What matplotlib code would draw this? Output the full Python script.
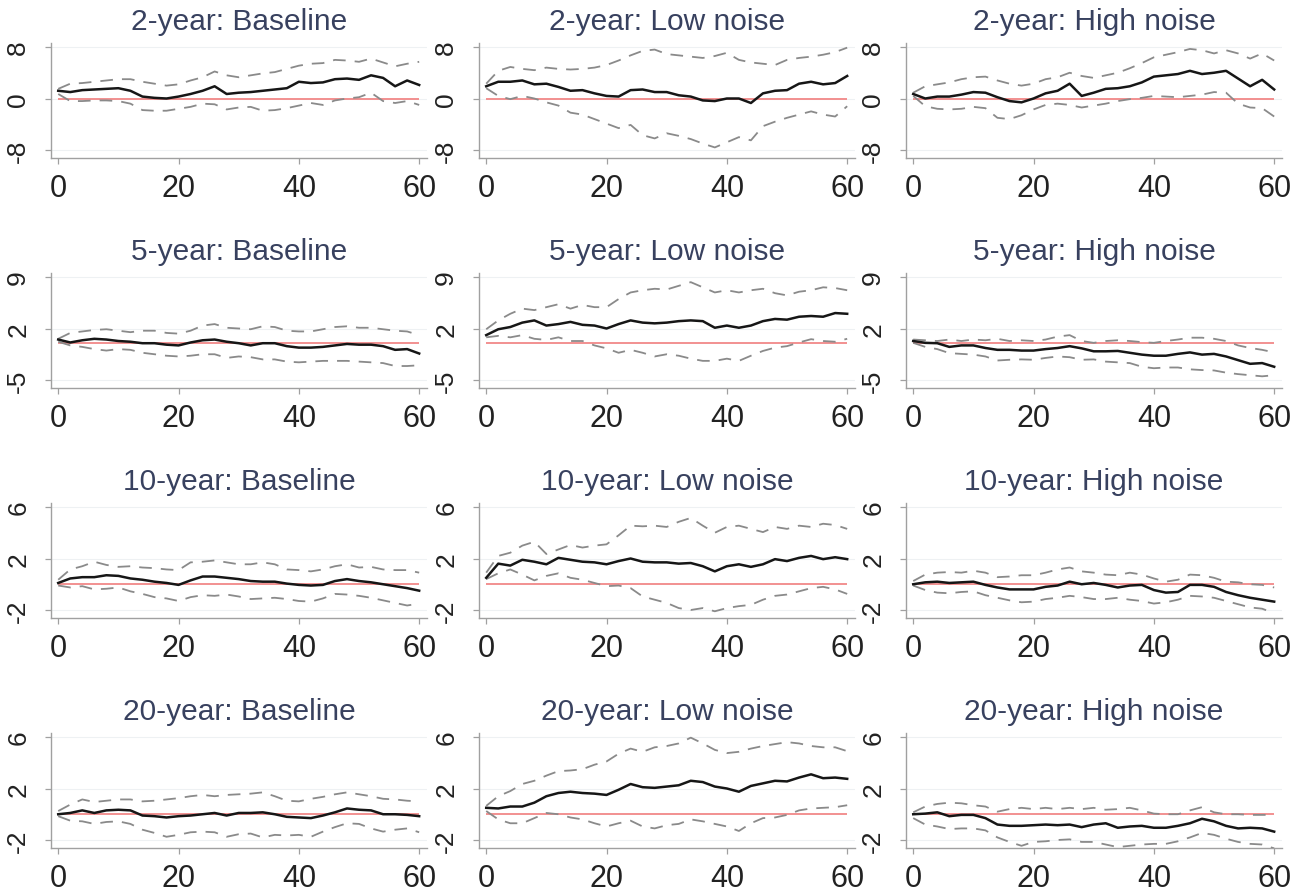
import matplotlib
matplotlib.use('Agg')
import matplotlib.pyplot as plt

plt.rcParams['font.family'] = ['Liberation Sans', 'DejaVu Sans']

# forecast horizon (months), sampled every second step
horizon = list(range(0, 61, 2))
maturities = ['2-year', '5-year', '10-year', '20-year']
scenarios = ['Baseline', 'Low noise', 'High noise']
y_ticks = [[-8, 0, 8], [-5, 2, 9], [-2, 2, 6], [-2, 2, 6]]
x_ticks = [0, 20, 40, 60]

# 2-year
mean_2y_base = [1.2, 1.0, 1.3, 1.4, 1.5, 1.6, 1.2, 0.3, 0.1, 0.0, 0.3, 0.7, 1.2, 1.9, 0.7, 0.9,
                1.0, 1.2, 1.4, 1.6, 2.6, 2.4, 2.5, 3.0, 3.1, 2.9, 3.6, 3.2, 1.9, 2.8, 2.1]
upper_2y_base = [1.5, 2.3, 2.4, 2.6, 2.8, 3.0, 3.0, 2.6, 2.3, 2.0, 2.2, 2.8, 3.3, 4.2, 3.6, 3.3,
                 3.6, 3.9, 4.1, 4.6, 5.1, 5.4, 5.5, 6.0, 5.9, 5.7, 6.2, 5.6, 5.0, 5.4, 5.7]
lower_2y_base = [0.7, -0.4, -0.4, -0.3, -0.3, -0.4, -0.8, -1.8, -1.9, -1.9, -1.6, -1.3, -0.8, -0.9, -1.7, -1.4,
                 -1.3, -1.9, -1.8, -1.5, -1.1, -0.7, -1.0, -0.3, 0.0, 0.2, 0.9, -0.4, -0.7, -0.4, -1.0]

mean_2y_low = [1.9, 2.6, 2.6, 2.8, 2.2, 2.3, 1.8, 1.2, 1.3, 0.8, 0.4, 0.3, 1.3, 1.4, 1.0, 1.0,
               0.5, 0.3, -0.3, -0.4, 0.0, 0.0, -0.7, 0.8, 1.2, 1.3, 2.3, 2.6, 2.2, 2.4, 3.5]
upper_2y_low = [2.3, 4.3, 4.9, 4.6, 4.4, 4.8, 4.6, 4.5, 4.6, 4.8, 5.2, 5.9, 6.7, 7.4, 7.6, 6.9,
                6.7, 6.5, 6.3, 6.6, 7.1, 6.0, 5.6, 5.4, 5.2, 6.0, 6.3, 6.5, 6.8, 7.2, 7.9]
lower_2y_low = [1.6, 0.4, -0.1, 0.4, 0.0, -0.6, -1.1, -2.2, -2.5, -3.2, -3.9, -4.6, -4.1, -5.7, -6.2, -5.4,
                -5.8, -6.3, -7.0, -7.6, -6.8, -6.0, -6.5, -4.3, -3.6, -3.0, -2.5, -2.0, -2.5, -2.8, -1.2]

mean_2y_high = [0.7, 0.0, 0.3, 0.3, 0.6, 1.0, 0.9, 0.2, -0.4, -0.6, 0.0, 0.8, 1.2, 2.3, 0.4, 0.9,
                1.5, 1.6, 1.9, 2.5, 3.4, 3.6, 3.8, 4.3, 3.8, 4.0, 4.3, 3.1, 1.9, 2.9, 1.4]
upper_2y_high = [0.9, 1.9, 2.2, 2.5, 3.0, 3.3, 3.4, 2.8, 2.3, 2.0, 2.3, 3.0, 3.3, 4.0, 3.5, 3.2,
                 3.6, 4.0, 4.7, 5.5, 6.4, 6.8, 7.2, 7.7, 7.5, 7.0, 7.5, 7.0, 6.2, 7.0, 5.9]
lower_2y_high = [0.4, -1.2, -1.6, -1.7, -1.6, -1.3, -1.5, -3.0, -3.2, -2.6, -1.7, -1.0, -0.8, -1.0, -1.4, -1.1,
                 -0.8, -0.4, -0.1, 0.1, 0.4, 0.3, 0.2, 0.4, 0.6, 1.0, 0.9, -0.8, -1.4, -1.5, -2.8]

# 5-year
mean_5y_base = [0.5, 0.1, 0.4, 0.6, 0.5, 0.3, 0.2, 0.0, 0.0, -0.2, -0.3, 0.1, 0.4, 0.5, 0.2, 0.0,
                -0.3, 0.0, 0.0, -0.4, -0.6, -0.6, -0.5, -0.3, -0.1, -0.2, -0.2, -0.4, -0.9, -0.8, -1.4]
upper_5y_base = [0.6, 1.4, 1.6, 1.8, 1.9, 1.7, 1.5, 1.7, 1.7, 1.4, 1.3, 1.7, 2.4, 2.6, 2.1, 2.0,
                 1.9, 2.3, 2.2, 1.7, 1.6, 1.6, 1.9, 2.2, 2.3, 2.1, 2.1, 1.9, 1.7, 1.6, 1.1]
lower_5y_base = [0.2, -0.3, -0.5, -0.8, -1.0, -0.8, -0.9, -1.3, -1.5, -1.7, -1.8, -1.7, -1.5, -1.5, -2.0, -1.8,
                 -1.9, -2.2, -2.2, -2.5, -2.6, -2.5, -2.4, -2.4, -2.4, -2.5, -2.6, -2.7, -3.1, -3.1, -3.0]

mean_5y_low = [1.1, 1.9, 2.2, 2.8, 3.1, 2.4, 2.6, 2.9, 2.5, 2.4, 2.0, 2.6, 3.1, 2.8, 2.7, 2.8,
               3.0, 3.1, 3.0, 2.1, 2.4, 2.1, 2.4, 3.0, 3.3, 3.2, 3.6, 3.7, 3.6, 4.1, 4.0]
upper_5y_low = [1.9, 3.1, 4.0, 4.7, 4.5, 4.9, 5.3, 4.7, 5.2, 4.9, 4.9, 6.0, 6.9, 7.2, 7.4, 7.3,
                7.8, 8.3, 7.6, 6.9, 7.2, 6.9, 7.2, 7.4, 6.8, 6.5, 7.0, 7.2, 7.6, 7.5, 7.2]
lower_5y_low = [0.8, 1.0, 0.8, 1.1, 0.6, 0.45, 0.8, 0.3, 0.3, -0.3, -0.7, -1.3, -0.9, -1.3, -1.8, -1.5,
                -1.7, -2.1, -2.4, -2.4, -2.1, -2.4, -1.7, -1.05, -0.6, -0.4, 0.1, 0.55, 0.3, 0.2, 0.6]

mean_5y_high = [0.3, 0.05, 0.0, -0.5, -0.3, -0.3, -0.65, -0.9, -0.9, -1.0, -1.0, -0.8, -0.65, -0.4, -0.7, -1.1,
                -1.1, -1.05, -1.3, -1.55, -1.7, -1.7, -1.45, -1.25, -1.55, -1.45, -1.8, -2.3, -2.8, -2.7, -3.2]
upper_5y_high = [0.5, 0.4, 0.3, 0.5, 0.3, 0.5, 0.4, 0.6, 0.3, 0.4, 0.3, 0.5, 0.9, 1.1, 0.3, 0.05,
                 0.3, 0.4, 0.3, 0.15, 0.05, 0.3, 0.5, 0.75, 0.75, 0.6, 0.3, -0.3, -0.65, -0.9, -1.25]
lower_5y_high = [0.05, -0.5, -0.8, -1.35, -1.45, -1.55, -1.8, -2.35, -2.25, -2.2, -2.25, -2.0, -1.8, -1.9, -2.25, -2.2,
                 -2.5, -2.6, -2.7, -3.2, -3.4, -3.3, -3.3, -3.55, -3.65, -3.7, -4.0, -4.2, -4.35, -4.5, -4.35]

# 10-year
mean_10y_base = [0.1, 0.45, 0.55, 0.55, 0.7, 0.65, 0.45, 0.35, 0.2, 0.1, -0.05, 0.3, 0.6, 0.6, 0.5, 0.4,
                 0.25, 0.2, 0.2, 0.05, -0.05, -0.1, -0.05, 0.25, 0.4, 0.25, 0.15, 0.0, -0.15, -0.3, -0.5]
upper_10y_base = [0.35, 1.15, 1.4, 1.75, 1.5, 1.35, 1.4, 1.3, 1.25, 1.15, 1.1, 1.7, 1.75, 1.85, 1.7, 1.55,
                  1.55, 1.7, 1.55, 1.15, 1.1, 1.0, 1.15, 1.4, 1.55, 1.3, 1.35, 1.15, 1.1, 1.1, 0.9]
lower_10y_base = [-0.1, -0.25, -0.15, -0.4, -0.35, -0.25, -0.55, -0.75, -1.0, -1.1, -1.3, -1.0, -0.85, -0.9, -0.8, -0.95,
                  -1.15, -1.1, -1.05, -1.15, -1.3, -1.35, -1.1, -0.75, -0.8, -0.9, -1.05, -1.25, -1.45, -1.65, -1.5]

mean_10y_low = [0.5, 1.6, 1.45, 1.9, 1.75, 1.55, 2.05, 1.9, 1.75, 1.7, 1.55, 1.8, 2.0, 1.75, 1.7, 1.7,
                1.6, 1.65, 1.4, 1.0, 1.4, 1.55, 1.35, 1.55, 1.95, 1.8, 2.05, 2.2, 1.95, 2.1, 1.95]
upper_10y_low = [0.9, 2.2, 2.45, 3.0, 3.3, 2.35, 2.7, 3.05, 2.85, 3.0, 3.1, 3.8, 4.55, 4.5, 4.55, 4.45,
                 4.85, 5.15, 4.55, 4.0, 4.45, 4.55, 4.3, 4.05, 4.45, 4.3, 4.55, 4.45, 4.7, 4.6, 4.3]
lower_10y_low = [0.4, 0.85, 1.15, 0.75, 0.3, 0.65, 0.85, 0.5, 0.35, 0.1, -0.15, -0.1, -0.3, -0.95, -1.2, -1.45,
                 -1.85, -2.0, -1.85, -2.1, -1.85, -1.7, -1.6, -1.2, -0.9, -0.8, -0.55, -0.3, -0.2, -0.4, -0.75]

mean_10y_high = [0.0, 0.15, 0.2, 0.1, 0.15, 0.2, -0.05, -0.25, -0.4, -0.4, -0.4, -0.2, -0.1, 0.2, 0.0, 0.1,
                 -0.05, -0.25, -0.1, -0.05, -0.45, -0.65, -0.6, -0.05, -0.05, -0.2, -0.6, -0.85, -1.05, -1.2, -1.35]
upper_10y_high = [0.25, 0.75, 0.9, 0.95, 0.9, 1.05, 0.9, 0.55, 0.6, 0.7, 0.7, 0.9, 1.15, 1.3, 1.0, 0.9,
                  0.75, 0.7, 0.9, 0.75, 0.45, 0.2, 0.35, 0.75, 0.7, 0.5, 0.2, 0.15, 0.0, -0.05, -0.25]
lower_10y_high = [-0.1, -0.45, -0.65, -0.7, -0.6, -0.55, -0.85, -1.05, -1.25, -1.4, -1.35, -1.15, -1.05, -0.9, -1.0, -1.15,
                  -1.15, -1.05, -1.2, -1.3, -1.5, -1.4, -1.2, -0.9, -0.95, -1.05, -1.3, -1.55, -1.8, -1.9, -2.25]

# 20-year
mean_20y_base = [0.0, 0.1, 0.3, 0.1, 0.3, 0.35, 0.3, -0.1, -0.15, -0.25, -0.15, -0.1, 0.0, 0.1, -0.1, 0.1,
                 0.1, 0.15, 0.0, -0.2, -0.25, -0.3, -0.1, 0.15, 0.45, 0.35, 0.3, 0.0, 0.0, -0.05, -0.15]
upper_20y_base = [0.25, 0.75, 1.15, 0.95, 1.05, 1.15, 1.15, 1.0, 1.05, 1.15, 1.25, 1.4, 1.5, 1.4, 1.5, 1.55,
                  1.6, 1.7, 1.4, 1.05, 1.0, 1.2, 1.35, 1.55, 1.7, 1.55, 1.4, 1.2, 1.15, 1.05, 1.0]
lower_20y_base = [-0.15, -0.5, -0.55, -0.75, -0.6, -0.55, -0.75, -1.2, -1.45, -1.75, -1.6, -1.4, -1.35, -1.4, -1.75, -1.55,
                  -1.5, -1.8, -1.6, -1.65, -1.6, -1.75, -1.35, -1.0, -0.7, -0.75, -1.1, -1.35, -1.2, -1.1, -1.4]

mean_20y_low = [0.5, 0.45, 0.6, 0.6, 0.9, 1.4, 1.65, 1.75, 1.65, 1.6, 1.5, 1.9, 2.35, 2.1, 2.05, 2.15,
                2.25, 2.6, 2.5, 2.15, 2.0, 1.75, 2.2, 2.4, 2.6, 2.55, 2.85, 3.1, 2.8, 2.85, 2.75]
upper_20y_low = [0.65, 1.4, 1.8, 2.35, 2.6, 3.0, 3.35, 3.4, 3.5, 3.85, 4.1, 4.7, 5.1, 4.85, 5.2, 5.3,
                 5.5, 5.95, 5.5, 5.0, 4.75, 4.85, 5.1, 5.3, 5.45, 5.6, 5.5, 5.3, 5.2, 5.2, 4.9]
lower_20y_low = [0.25, -0.4, -0.7, -0.7, -0.3, 0.1, 0.0, -0.25, -0.4, -0.7, -0.95, -0.7, -0.5, -0.95, -1.1, -0.85,
                 -0.75, -0.4, -0.55, -0.75, -0.95, -1.3, -0.7, -0.3, -0.25, -0.05, 0.3, 0.45, 0.5, 0.55, 0.7]

mean_20y_high = [0.0, 0.05, 0.15, -0.15, -0.05, -0.05, -0.3, -0.8, -0.9, -0.9, -0.85, -0.8, -0.85, -0.8, -1.0, -0.8,
                 -0.7, -1.05, -0.95, -0.9, -1.05, -1.05, -0.9, -0.7, -0.35, -0.55, -0.9, -1.1, -1.05, -1.1, -1.35]
upper_20y_high = [0.15, 0.6, 0.8, 0.9, 0.85, 0.7, 0.6, 0.2, 0.4, 0.5, 0.4, 0.5, 0.4, 0.5, 0.4, 0.5,
                  0.35, 0.4, 0.5, 0.3, 0.05, 0.0, 0.0, 0.3, 0.55, 0.15, 0.0, 0.0, -0.05, -0.05, -0.05]
lower_20y_high = [-0.3, -0.8, -0.95, -1.15, -1.1, -1.1, -1.25, -1.8, -2.15, -2.45, -2.15, -2.1, -2.0, -1.95, -2.15, -2.15,
                  -2.35, -2.55, -2.45, -2.35, -2.3, -2.3, -2.1, -1.8, -1.45, -1.6, -1.9, -2.15, -2.3, -2.35, -2.65]

panels = [
    [(mean_2y_base, upper_2y_base, lower_2y_base),
     (mean_2y_low, upper_2y_low, lower_2y_low),
     (mean_2y_high, upper_2y_high, lower_2y_high)],
    [(mean_5y_base, upper_5y_base, lower_5y_base),
     (mean_5y_low, upper_5y_low, lower_5y_low),
     (mean_5y_high, upper_5y_high, lower_5y_high)],
    [(mean_10y_base, upper_10y_base, lower_10y_base),
     (mean_10y_low, upper_10y_low, lower_10y_low),
     (mean_10y_high, upper_10y_high, lower_10y_high)],
    [(mean_20y_base, upper_20y_base, lower_20y_base),
     (mean_20y_low, upper_20y_low, lower_20y_low),
     (mean_20y_high, upper_20y_high, lower_20y_high)],
]

W, H = 1303, 895
fig = plt.figure(figsize=(W / 100, H / 100), dpi=100)

# panel geometry in pixels
col_left = [51, 479, 906]
row_top = [44, 274, 504, 734]
ax_w, ax_h = 376, 115
axis_col = '#a0a0a0'

for i, mat in enumerate(maturities):
    ticks = y_ticks[i]
    span = ticks[-1] - ticks[0]
    for j, scen in enumerate(scenarios):
        ax = fig.add_axes([col_left[j] / W, 1 - (row_top[i] + ax_h) / H, ax_w / W, ax_h / H])
        mean, upper, lower = panels[i][j]

        ax.hlines(0, horizon[0], horizon[-1], color='#f29090', lw=1.4, zorder=2)
        ax.plot(horizon, upper, color='#8a8a8a', lw=1.3, dashes=(7, 5), zorder=3)
        ax.plot(horizon, lower, color='#8a8a8a', lw=1.3, dashes=(7, 5), zorder=3)
        ax.plot(horizon, mean, color='#161616', lw=1.8, zorder=4)

        ax.set_xlim(-1.2, 61.3)
        ax.set_ylim(ticks[0] - span * 8 / 103, ticks[-1] + span * 4 / 103)
        ax.set_xticks(x_ticks)
        ax.set_yticks(ticks)
        ax.set_yticklabels([str(t) for t in ticks], rotation=90, va='center')

        for s in ['top', 'right']:
            ax.spines[s].set_visible(False)
        for s in ['left', 'bottom']:
            ax.spines[s].set_color(axis_col)
            ax.spines[s].set_linewidth(1.0)
        ax.tick_params(axis='x', length=4, width=0.9, color=axis_col, labelsize=22,
                       labelcolor='#222222', pad=7)
        ax.tick_params(axis='y', length=4, width=0.9, color=axis_col, labelsize=19,
                       labelcolor='#222222', pad=11)
        ax.yaxis.grid(True, color='#eef1f3', lw=0.8, zorder=0)
        ax.set_axisbelow(True)

        ax.set_title(f'{mat}: {scen}', fontsize=21.5, color='#38415f', pad=10)

fig.savefig('out.png', dpi=100)
